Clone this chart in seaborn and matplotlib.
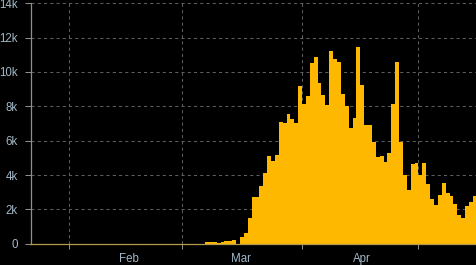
import matplotlib
matplotlib.use("Agg")
import matplotlib.pyplot as plt
import seaborn as sns
import pandas as pd
import numpy as np

# ---- data (daily new cases, from 2020-01-22) ----
start_date = "2020-01-22"
daily_cases = [
    0, 0, 0, 0, 0, 0, 0, 0, 0, 0,
    0, 0, 0, 0, 0, 0, 0, 0, 0, 0,
    0, 0, 0, 0, 0, 0, 0, 0, 0, 0,
    0, 0, 0, 0, 0, 0, 0, 0, 0, 0,
    0, 0, 0, 0, 0,
    80, 80, 80, 30, 110, 170, 170, 230, 0, 390,
    620, 1500, 2720, 2720, 3360, 4120, 5100, 4810, 5160, 7090,
    7030, 7550, 7260, 7030, 9180, 8140, 8600, 10500, 10870, 9360,
    8660, 8080, 11220, 10760, 10580, 8720, 8020, 6740, 7320, 11460,
    9240, 6910, 6910, 5920, 5050, 5100, 4760, 5280, 8140, 10580,
    5920, 4000, 3130, 4640, 4700, 4000, 4700, 3480, 2600, 2250,
    2840, 3540, 2950, 2780, 2310, 1670, 1500, 2200, 2430, 2780,
]
y_ticks = [0, 2000, 4000, 6000, 8000, 10000, 12000, 14000]
y_tick_labels = ["0", "2k", "4k", "6k", "8k", "10k", "12k", "14k"]
month_labels = ["Feb", "Mar", "Apr"]

dates = pd.date_range(start_date, periods=len(daily_cases), freq="D")
df = pd.DataFrame({"day": np.arange(len(daily_cases)), "cases": daily_cases})

# ---- style ----
BG = "#000000"
BAR = "#FFB800"
TXT = "#a3b9c9"
GRID = "#5e5e5e"
AXIS = "#8f8f8f"

sns.set_theme(style="dark")
plt.rcParams["font.family"] = ["Liberation Sans", "DejaVu Sans"]

W, H = 477, 265
fig = plt.figure(figsize=(W / 100, H / 100), dpi=100, facecolor=BG)
ax = fig.add_axes([30.5 / W, 21.3 / H, 446.5 / W, 240.4 / H])
ax.set_facecolor(BG)

sns.barplot(data=df, x="day", y="cases", native_scale=True, color=BAR,
            saturation=1, width=1.0, linewidth=0, errorbar=None, ax=ax)

ax.set_xlim(-0.5, 114.58)
ax.set_ylim(0, 14000)

# month boundaries (gridlines + ticks)
bounds = [i - 0.5 for i, d in enumerate(dates) if d.day == 1]
bounds.append(len(dates) + 15 - 0.5)  # May 1 boundary
bounds = [b for b in bounds if b < 114.58]
ax.set_xticks(bounds)
ax.set_xticklabels([""] * len(bounds))
ax.set_xticks([24.9, 53.8, 84.8], minor=True)
ax.set_xticklabels(month_labels, minor=True)

ax.set_yticks(y_ticks)
ax.set_yticklabels(y_tick_labels)

ax.tick_params(axis="x", which="major", length=3.6, width=0.75, color=AXIS,
               direction="out", bottom=True)
ax.tick_params(axis="x", which="minor", length=0, pad=6.5, labelsize=8.3,
               labelcolor=TXT)
ax.tick_params(axis="y", which="major", length=4, width=0.75, color=AXIS,
               direction="out", left=True, pad=5, labelsize=8.3, labelcolor=TXT)

ax.grid(False)
for b in bounds:
    ax.axvline(b, color=GRID, lw=0.75, ls=(0, (3, 3)), zorder=0)
for t in y_ticks[1:]:
    ax.axhline(t, color=GRID, lw=0.75, ls=(0, (3, 3)), zorder=0)

for s in ["top", "right"]:
    ax.spines[s].set_visible(False)
ax.spines["left"].set_color(AXIS)
ax.spines["left"].set_linewidth(0.9)
ax.spines["bottom"].set_color("#b39a4c")
ax.spines["bottom"].set_linewidth(0.9)

ax.set_xlabel("")
ax.set_ylabel("")

fig.savefig("out.png", dpi=100, facecolor=BG)
